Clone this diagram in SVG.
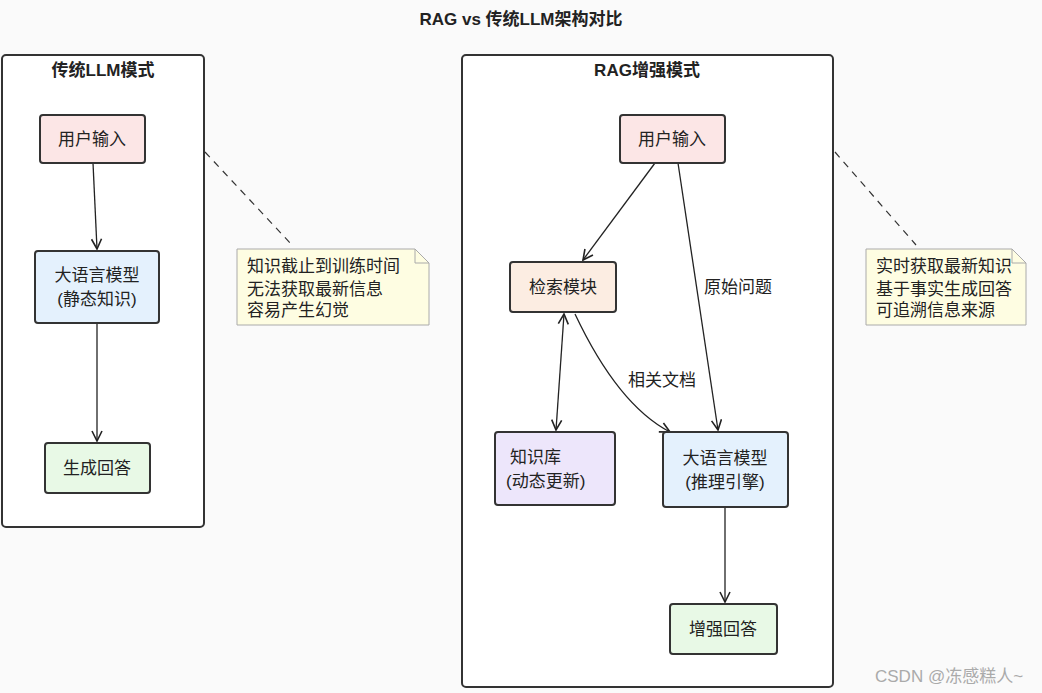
<svg xmlns="http://www.w3.org/2000/svg" width="1042" height="693" viewBox="0 0 1042 693">
<style>
text{font-family:"Liberation Sans","Noto Sans CJK SC",sans-serif;fill:#222;font-size:17px}
.t{font-weight:bold;text-anchor:middle}
.c{text-anchor:middle}
.box{stroke:#333;stroke-width:2}
.cont{fill:#fff;stroke:#333;stroke-width:2}
.e{fill:none;stroke:#222;stroke-width:1.3}
.note{fill:#fefde2;stroke:#aaa;stroke-width:1}
.dash{stroke:#333;stroke-width:1.2;stroke-dasharray:7 6;fill:none}
</style>
<defs>
<marker id="a" viewBox="0 0 12 12" refX="11" refY="6" markerWidth="12" markerHeight="12" markerUnits="userSpaceOnUse" orient="auto-start-reverse"><path d="M1,1 L11,6 L1,11" fill="none" stroke="#222" stroke-width="1.6"/></marker>
</defs>
<rect width="1042" height="693" fill="#fafafa"/>
<text class="t" x="521" y="25" font-size="16">RAG vs 传统LLM架构对比</text>
<g id="left-group"><rect class="cont" x="2" y="55" width="202" height="472" rx="4"/><text class="t" x="103" y="76">传统LLM模式</text></g>
<g id="right-group"><rect class="cont" x="462" y="55" width="371" height="632" rx="4"/><text class="t" x="647" y="76">RAG增强模式</text></g>
<g id="connectors">
<line class="e" x1="93" y1="163" x2="97" y2="249" marker-end="url(#a)"/>
<line class="e" x1="97" y1="323" x2="97" y2="441" marker-end="url(#a)"/>
<line class="e" x1="655" y1="163" x2="583" y2="260" marker-end="url(#a)"/>
<line class="e" x1="678" y1="163" x2="718" y2="430" marker-end="url(#a)"/>
<line class="e" x1="564" y1="314" x2="556" y2="430" marker-start="url(#a)" marker-end="url(#a)"/>
<path class="e" d="M575,314 Q618,405 670,432" marker-end="url(#a)"/>
<line class="e" x1="725" y1="507" x2="725" y2="602" marker-end="url(#a)"/>
<text x="704" y="293">原始问题</text>
<text x="628" y="386">相关文档</text>
<line class="dash" x1="205" y1="152" x2="292" y2="245"/>
<line class="dash" x1="835" y1="152" x2="916" y2="245"/>
</g>
<g id="l-input"><rect class="box" x="40" y="115" width="105" height="48" rx="3" fill="#fce6e6"/><text class="c" x="92" y="145">用户输入</text></g>
<g id="l-llm"><rect class="box" x="35" y="251" width="124" height="72" rx="3" fill="#e4f1fd"/><text class="c" x="97" y="281">大语言模型</text><text class="c" x="97" y="305">(静态知识)</text></g>
<g id="l-out"><rect class="box" x="45" y="443" width="105" height="50" rx="3" fill="#e8f9e6"/><text class="c" x="97" y="474">生成回答</text></g>
<g id="l-note"><path class="note" d="M237,249 H415 L429,263 V325 H237 Z"/><path d="M415,249 V263 H429" fill="none" stroke="#aaa"/><text x="247" y="272">知识截止到训练时间</text><text x="247" y="295">无法获取最新信息</text><text x="247" y="316">容易产生幻觉</text></g>
<g id="r-input"><rect class="box" x="620" y="115" width="105" height="48" rx="3" fill="#fce6e6"/><text class="c" x="672" y="145">用户输入</text></g>
<g id="r-search"><rect class="box" x="510" y="262" width="106" height="50" rx="3" fill="#fcede2"/><text class="c" x="563" y="293">检索模块</text></g>
<g id="r-kb"><rect class="box" x="495" y="432" width="120" height="73" rx="3" fill="#ede6fb"/><text x="510" y="463">知识库</text><text x="506" y="487">(动态更新)</text></g>
<g id="r-llm"><rect class="box" x="663" y="432" width="125" height="75" rx="3" fill="#e4f1fd"/><text class="c" x="725" y="464">大语言模型</text><text class="c" x="725" y="488">(推理引擎)</text></g>
<g id="r-out"><rect class="box" x="670" y="604" width="107" height="50" rx="3" fill="#e8f9e6"/><text class="c" x="723" y="635">增强回答</text></g>
<g id="r-note"><path class="note" d="M866,249 H1012 L1026,263 V325 H866 Z"/><path d="M1012,249 V263 H1026" fill="none" stroke="#aaa"/><text x="876" y="272">实时获取最新知识</text><text x="876" y="295">基于事实生成回答</text><text x="876" y="316">可追溯信息来源</text></g>
<text x="875" y="682" font-size="15" style="fill:#aaa">CSDN @冻感糕人~</text>
</svg>
